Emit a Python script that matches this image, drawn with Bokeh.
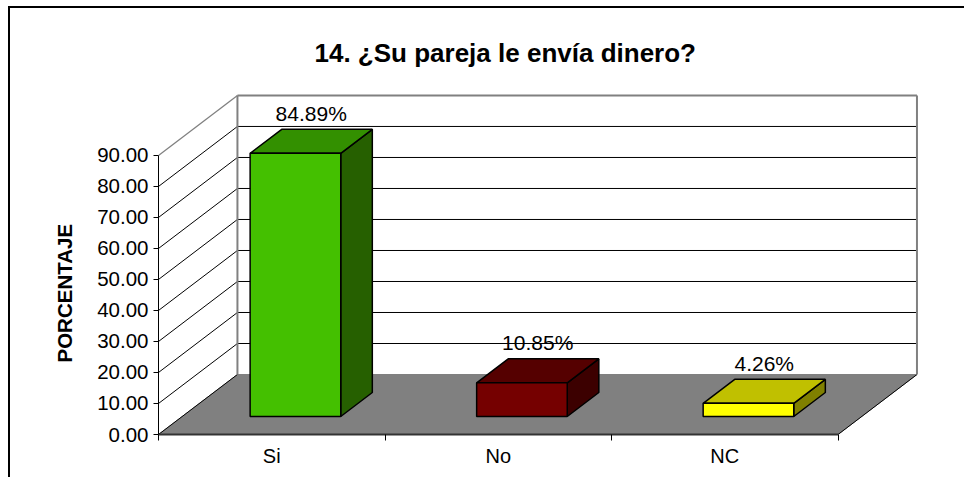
from bokeh.embed import file_html
from bokeh.resources import INLINE
from bokeh.plotting import figure
from bokeh.models import FixedTicker, Label, Title

TITLE = "14. ¿Su pareja le envía dinero?"
Y_LABEL = "PORCENTAJE"
categories = ["Si", "No", "NC"]
values = [84.89, 10.85, 4.26]
value_labels = ["84.89%", "10.85%", "4.26%"]
y_ticks = [0, 10, 20, 30, 40, 50, 60, 70, 80, 90]
front_colors = ["#44C000", "#750000", "#FFFF00"]
top_colors = ["#339000", "#550000", "#C0C000"]
side_colors = ["#266000", "#3C0000", "#808000"]

DX = 0.3485   # depth expressed in category units
DY = 19.35    # depth expressed in value units
N = len(categories)
YMAX = y_ticks[-1]
FONT = "Liberation Sans"

def proj(x, v, d):
    return x + d * DX, v + d * DY

p = figure(width=956, height=471, output_backend="svg", toolbar_location=None,
           x_range=(0, N + DX + 0.02), y_range=(0, YMAX + DY + 1.6),
           min_border_left=148, min_border_right=45, min_border_top=82, min_border_bottom=45,
           background_fill_color="white", border_fill_color="white",
           margin=(6, 0, 0, 8))
p.styles = {"border-top": "2px solid black", "border-left": "2px solid black"}
p.outline_line_color = None
p.grid.visible = False

# title
p.title = Title(text=TITLE, align="left", text_font=FONT, text_font_size="26px",
                text_font_style="bold", text_color="black", offset=156, standoff=45)

# y-axis title, beside the axis and starting above the frame's bottom edge
p.add_layout(Title(text=Y_LABEL, align="left", offset=72, standoff=37, text_font=FONT,
                   text_font_size="20.5px", text_font_style="bold", text_color="black"), "left")

# floor
fx, fy = zip(proj(0, 0, 0), proj(0, 0, 1), proj(N, 0, 1), proj(N, 0, 0))
p.patch(list(fx), list(fy), fill_color="#808080", line_color="#808080", line_width=1)
ex, ey = zip(proj(N, 0, 0), proj(N, 0, 1))
p.line(list(ex), list(ey), line_color="black", line_width=1)

# side-wall diagonals and back-wall grid
for t in y_ticks:
    top = t == YMAX
    col = "#808080" if top else "black"
    ax, ay = proj(0, t, 0)
    bx, by = proj(0, t, 1)
    cx, cy = proj(N, t, 1)
    p.line([ax, bx], [ay, by], line_color=col, line_width=1.3 if top else 1)
    if t > 0:
        p.line([bx, cx], [by, cy], line_color=col, line_width=2 if top else 1)

# back wall verticals
for x in (0, N):
    bx, by0 = proj(x, 0, 1)
    _, by1 = proj(x, YMAX, 1)
    p.line([bx, bx], [by0, by1], line_color="#808080", line_width=2)

# bars
BAR_W = 0.4
D0, D1 = 0.3, 0.7
for i, v in enumerate(values):
    xl = i + 0.5 - BAR_W / 2
    xr = xl + BAR_W
    pts = lambda seq: ([proj(*a)[0] for a in seq], [proj(*a)[1] for a in seq])
    top_x, top_y = pts([(xl, v, D0), (xl, v, D1), (xr, v, D1), (xr, v, D0)])
    side_x, side_y = pts([(xr, 0, D0), (xr, v, D0), (xr, v, D1), (xr, 0, D1)])
    front_x, front_y = pts([(xl, 0, D0), (xl, v, D0), (xr, v, D0), (xr, 0, D0)])
    p.patch(side_x, side_y, fill_color=side_colors[i], line_color="black", line_width=1.5)
    p.patch(top_x, top_y, fill_color=top_colors[i], line_color="black", line_width=1.5)
    p.patch(front_x, front_y, fill_color=front_colors[i], line_color="black", line_width=1.5)
    lx, ly = proj(i + 0.5, v, 0.5)
    p.add_layout(Label(x=lx, y=ly, text=value_labels[i], y_offset=28, text_align="center",
                       text_baseline="alphabetic", text_font=FONT, text_font_size="21px",
                       text_color="black"))

# axes
ya = p.yaxis[0]
ya.ticker = FixedTicker(ticks=y_ticks)
ya.major_label_overrides = {t: f"{t:.2f}" for t in y_ticks}
ya.bounds = (0, YMAX)
ya.major_tick_in = 0
ya.major_tick_out = 5
ya.minor_tick_line_color = None
ya.axis_line_color = "black"
ya.major_tick_line_color = "black"
ya.major_label_text_font = FONT
ya.major_label_text_font_size = "20.5px"
ya.major_label_text_color = "black"
ya.major_label_standoff = 5

xa = p.xaxis[0]
centers = [i + 0.5 for i in range(N)]
xa.ticker = FixedTicker(ticks=centers, minor_ticks=list(range(N + 1)))
xa.major_label_overrides = {c: n for c, n in zip(centers, categories)}
xa.bounds = (0, N)
xa.major_tick_in = 0
xa.major_tick_out = 0
xa.minor_tick_in = 0
xa.minor_tick_out = 6
xa.minor_tick_line_color = "black"
xa.axis_line_color = "#333333"
xa.axis_line_width = 2
xa.major_label_text_font = FONT
xa.major_label_text_font_size = "20px"
xa.major_label_text_color = "black"
xa.major_label_standoff = 4

open("out.html", "w").write(file_html(p, INLINE))
